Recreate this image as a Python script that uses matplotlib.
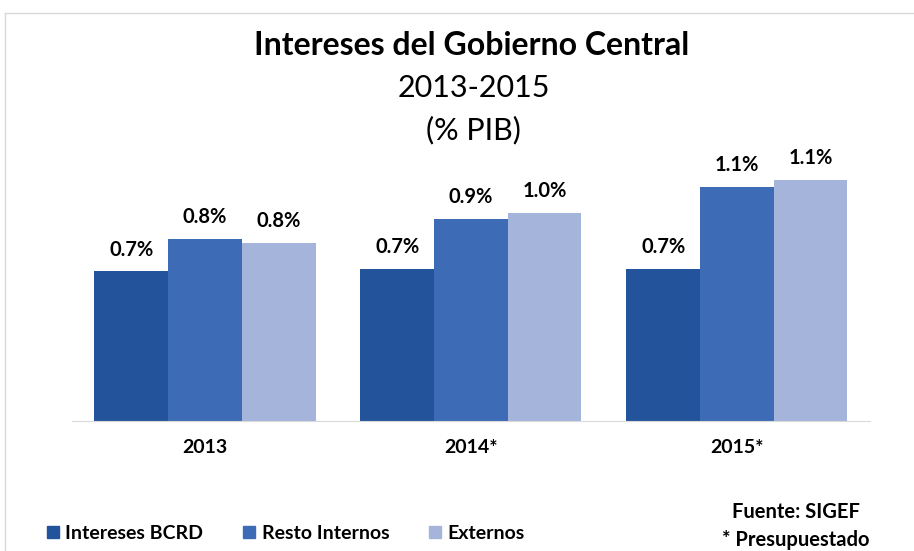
import numpy as np
import matplotlib
matplotlib.use('Agg')
import matplotlib.pyplot as plt
from matplotlib.lines import Line2D

plt.rcParams['font.family'] = ['Lato', 'DejaVu Sans']

years = ['2013', '2014*', '2015*']
series = ['Intereses BCRD', 'Resto Internos', 'Externos']
bcrd = [0.69, 0.70, 0.70]
resto = [0.84, 0.93, 1.08]
externos = [0.82, 0.96, 1.11]
colors = ['#22539B', '#3E6BB5', '#A4B4DB']

fig = plt.figure(figsize=(9.14, 5.51), dpi=100)
ax = fig.add_axes([0.0788, 0.236, 0.873, 0.472])

x = np.arange(len(years))
w = 0.277
for i, (vals, name) in enumerate(zip([bcrd, resto, externos], series)):
    bars = ax.bar(x + (i - 1) * w, vals, w, color=colors[i], label=name)
    for b, v in zip(bars, vals):
        ax.text(b.get_x() + b.get_width() / 2, v + 0.055, f'{v:.1f}%',
                ha='center', va='bottom', fontsize=14.5, fontweight='bold')

ax.set_xlim(-0.5, 2.5)
ax.set_ylim(0, 1.2)
ax.set_yticks([])
ax.set_xticks(x)
ax.set_xticklabels(years, fontsize=14, fontweight='bold')
ax.tick_params(axis='x', length=0, pad=13)
for s in ['top', 'right', 'left']:
    ax.spines[s].set_visible(False)
ax.spines['bottom'].set_color('#D9D9D9')

fig.text(0.516, 0.918, 'Intereses del Gobierno Central', ha='center', va='center',
         fontsize=23, fontweight='bold')
fig.text(0.518, 0.84, '2013-2015', ha='center', va='center', fontsize=22)
fig.text(0.518, 0.764, '(% PIB)', ha='center', va='center', fontsize=22)

handles = [Line2D([], [], marker='s', linestyle='none', markersize=8,
                  markerfacecolor=c, markeredgecolor=c) for c in colors]
fig.legend(handles, series, loc='center left', bbox_to_anchor=(0.031, 0.032),
           ncol=3, frameon=False, handletextpad=0.3,
           columnspacing=2.0, handlelength=0.7,
           prop={'weight': 'bold', 'size': 14})

fig.text(0.871, 0.071, 'Fuente: SIGEF', ha='center', va='center',
         fontsize=14.5, fontweight='bold')
fig.text(0.871, 0.02, '* Presupuestado', ha='center', va='center',
         fontsize=14.5, fontweight='bold')

fig.add_artist(Line2D([0.0055, 1.0], [0.976, 0.976], color='#D9D9D9', lw=1))
fig.add_artist(Line2D([0.0055, 0.0055], [0.0, 0.976], color='#D9D9D9', lw=1))

fig.savefig('out.png', dpi=100)
